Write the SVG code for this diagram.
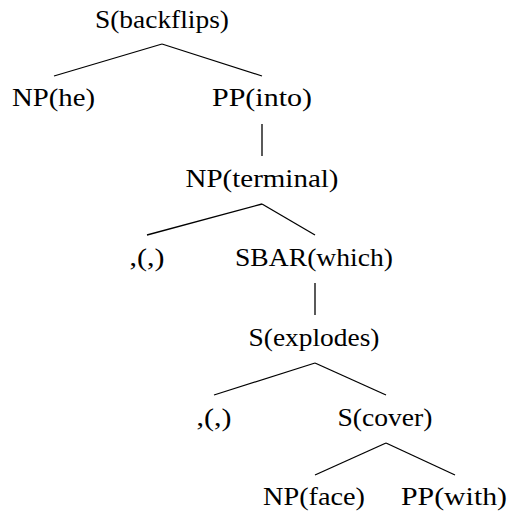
<svg xmlns="http://www.w3.org/2000/svg" width="507" height="515" viewBox="0 0 507 515">
  <style>
    .label { font-family: "Liberation Serif", "DejaVu Serif", serif; font-size: 26px; fill: #000; text-anchor: middle; }
    .edge { stroke: #000; stroke-width: 1.3; fill: none; stroke-linecap: butt; }
  </style>
  <rect width="507" height="515" fill="#fff"/>

  <!-- tree edges -->
  <g id="edges">
    <line class="edge" x1="162" y1="44" x2="54" y2="76"/>
    <line class="edge" x1="162" y1="44" x2="262" y2="76"/>
    <line class="edge" x1="262" y1="124" x2="262" y2="156"/>
    <line class="edge" x1="262" y1="204" x2="147" y2="235"/>
    <line class="edge" x1="262" y1="204" x2="315" y2="235"/>
    <line class="edge" x1="315" y1="283" x2="315" y2="315"/>
    <line class="edge" x1="315" y1="363" x2="214" y2="395"/>
    <line class="edge" x1="315" y1="363" x2="386" y2="395"/>
    <line class="edge" x1="386" y1="443" x2="315" y2="475"/>
    <line class="edge" x1="386" y1="443" x2="455" y2="475"/>
  </g>

  <!-- tree nodes -->
  <g id="s-backflips"><text class="label" x="162" y="28" textLength="134" lengthAdjust="spacingAndGlyphs">S(backflips)</text></g>
  <g id="np-he"><text class="label" x="53.5" y="106" textLength="83" lengthAdjust="spacingAndGlyphs">NP(he)</text></g>
  <g id="pp-into"><text class="label" x="262" y="106" textLength="100" lengthAdjust="spacingAndGlyphs">PP(into)</text></g>
  <g id="np-terminal"><text class="label" x="262" y="186.5" textLength="153" lengthAdjust="spacingAndGlyphs">NP(terminal)</text></g>
  <g id="comma-1"><text class="label" x="147" y="266" textLength="35" lengthAdjust="spacingAndGlyphs">,(,)</text></g>
  <g id="sbar-which"><text class="label" x="314" y="266" textLength="158" lengthAdjust="spacingAndGlyphs">SBAR(which)</text></g>
  <g id="s-explodes"><text class="label" x="314" y="346" textLength="131" lengthAdjust="spacingAndGlyphs">S(explodes)</text></g>
  <g id="comma-2"><text class="label" x="214" y="425.5" textLength="35" lengthAdjust="spacingAndGlyphs">,(,)</text></g>
  <g id="s-cover"><text class="label" x="385" y="425.5" textLength="95" lengthAdjust="spacingAndGlyphs">S(cover)</text></g>
  <g id="np-face"><text class="label" x="314" y="505" textLength="102" lengthAdjust="spacingAndGlyphs">NP(face)</text></g>
  <g id="pp-with"><text class="label" x="454" y="505" textLength="106" lengthAdjust="spacingAndGlyphs">PP(with)</text></g>
</svg>
